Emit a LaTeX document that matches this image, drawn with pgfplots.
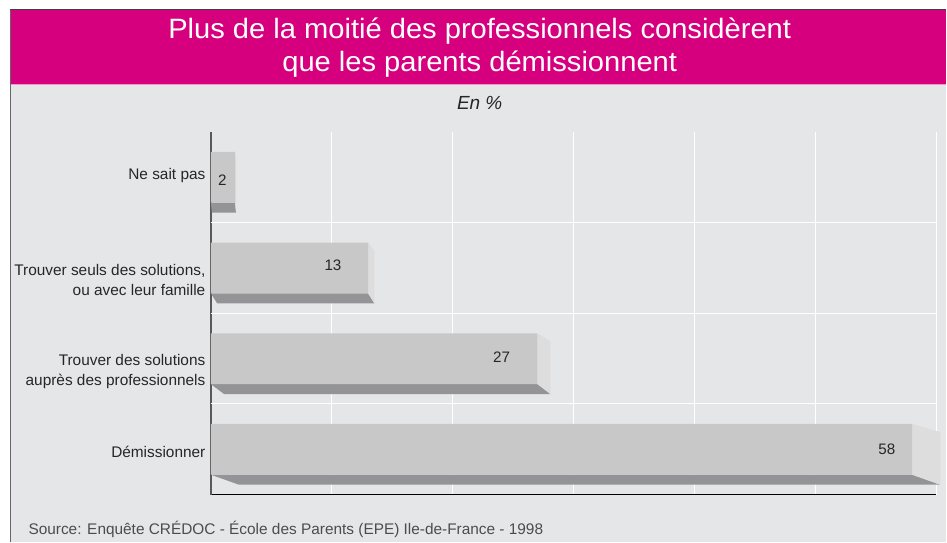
\documentclass[border=0pt]{standalone}
\usepackage{fontspec}
\setmainfont{Liberation Sans}
\newfontfamily\titlefont[FakeStretch=1.04]{Liberation Sans}
\usepackage{pgfplots}
\pgfplotsset{compat=1.18}
\definecolor{mag}{RGB}{214,0,126}
\definecolor{bg}{RGB}{229,230,232}
\definecolor{front}{RGB}{200,200,201}
\definecolor{bottomf}{RGB}{148,148,150}
\definecolor{sidef}{RGB}{221,221,222}
\begin{document}
\begin{tikzpicture}[x=1pt,y=1pt]
\fill[white] (0,0) rectangle (947,542);
\fill[bg] (10,0) rectangle (947,532);
\fill[mag] (10,457) rectangle (947,532);
\draw[white!60!mag, line width=1pt] (10,457)--(947,457);
\draw[black!75, line width=1.2pt] (10,532.5)--(947,532.5);
\draw[black!60, line width=1.2pt] (10.5,0)--(10.5,532);
\node[text=white, align=center, font=\titlefont\fontsize{28}{33}\selectfont] at (480,494) {Plus de la moitié des professionnels considèrent\\que les parents démissionnent};
\node[font=\fontsize{19}{22}\selectfont\itshape, text=black!85] at (480,439) {En \%};
\node[anchor=base west, font=\fontsize{15.4}{18}\selectfont, text=black!70] at (25,7) {Source: Enquête CRÉDOC - École des Parents (EPE) Ile-de-France - 1998};
\begin{axis}[
  at={(211pt,47pt)}, anchor=south west,
  scale only axis, width=726pt, height=363pt,
  xmin=0, xmax=60, ymin=-0.5, ymax=3.5,
  clip=false,
  axis lines*=left,
  x axis line style={-, black, line width=0.9pt},
  y axis line style={-, black!65, line width=1.6pt},
  xtick={10,20,...,60}, xticklabels={},
  xmajorgrids=true,
  grid style={white, line width=1pt},
  major tick length=0pt,
  ytick={-0.03,0.86,1.87,3.02},
  yticklabels={Démissionner,{Trouver des solutions\\auprès des professionnels},{Trouver seuls des solutions,\\ou avec leur famille},Ne sait pas},
  yticklabel style={align=right, font=\fontsize{15.4}{20}\selectfont, text=black!85, xshift=-2pt},
  extra y ticks={0.5,1.5,2.5}, extra y tick labels={},
  extra y tick style={grid=major},
]
% bottom faces
\addplot[fill=bottomf, draw=none] coordinates {(0,2.72) (2,2.72) (2.08,2.61) (0.08,2.61)};
\addplot[fill=bottomf, draw=none] coordinates {(0,1.72) (13,1.72) (13.52,1.61) (0.52,1.61)};
\addplot[fill=bottomf, draw=none] coordinates {(0,0.72) (27,0.72) (28.08,0.61) (1.08,0.61)};
\addplot[fill=bottomf, draw=none] coordinates {(0,-0.28) (58,-0.28) (60.32,-0.39) (2.32,-0.39)};
% side faces
\addplot[fill=sidef, draw=none] coordinates {(2,3.28) (2.08,3.19) (2.08,2.61) (2,2.72)};
\addplot[fill=sidef, draw=none] coordinates {(13,2.28) (13.52,2.19) (13.52,1.61) (13,1.72)};
\addplot[fill=sidef, draw=none] coordinates {(27,1.28) (28.08,1.19) (28.08,0.61) (27,0.72)};
\addplot[fill=sidef, draw=none] coordinates {(58,0.28) (60.32,0.19) (60.32,-0.39) (58,-0.28)};
% front faces
\addplot[xbar, bar width=0.56, fill=front, draw=none] coordinates {(2,3) (13,2) (27,1) (58,0)};
% values
\node[font=\fontsize{15.2}{17}\selectfont, text=black!85] at (axis cs:0.95,2.97) {2};
\node[font=\fontsize{15.2}{17}\selectfont, text=black!85] at (axis cs:10.1,2.03) {13};
\node[font=\fontsize{15.2}{17}\selectfont, text=black!85] at (axis cs:24.05,1.02) {27};
\node[font=\fontsize{15.2}{17}\selectfont, text=black!85] at (axis cs:55.9,0) {58};
\end{axis}
\end{tikzpicture}
\end{document}
